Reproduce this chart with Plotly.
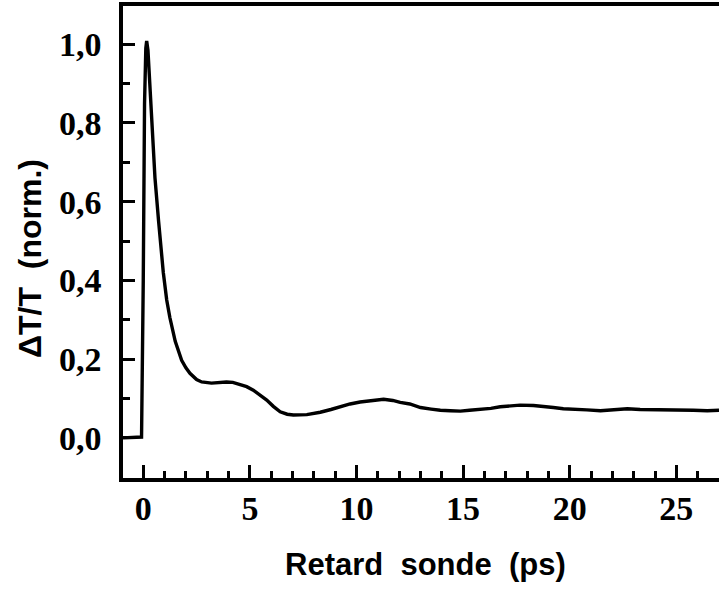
import plotly.graph_objects as go

# Pump-probe delay (ps) and normalized ΔT/T
delay_ps = [-0.95, -0.6, -0.3, -0.08, 0.0, 0.06, 0.12, 0.16, 0.22, 0.3, 0.39, 0.55, 0.72,
            0.94, 1.1, 1.25, 1.5, 1.8, 2.0, 2.19, 2.5, 2.74, 3.2, 3.6, 3.9, 4.2, 4.54,
            4.85, 5.16, 5.5, 5.79, 6.1, 6.42, 6.75, 7.04, 7.67, 8.3, 8.8, 9.23,
            9.7, 10.17, 10.7, 11.27, 11.7, 12.05, 12.5, 13.0, 13.5, 13.93, 14.4,
            14.87, 15.3, 15.8, 16.3, 16.74, 17.2, 17.67, 18.3, 18.8, 19.23, 19.7,
            20.17, 20.8, 21.44, 22.1, 22.7, 23.3, 23.9, 24.5, 25.2, 25.8, 26.45, 27.0]
dT_T_norm = [0.0, 0.0, 0.001, 0.002, 0.40, 0.85, 0.99, 1.008, 0.985, 0.90, 0.80, 0.66, 0.55,
             0.42, 0.35, 0.305, 0.245, 0.197, 0.178, 0.164, 0.148, 0.142, 0.139, 0.141, 0.142, 0.141, 0.136,
             0.13, 0.121, 0.108, 0.096, 0.08, 0.066, 0.06, 0.058, 0.059, 0.065, 0.072, 0.079,
             0.086, 0.091, 0.095, 0.098, 0.095, 0.09, 0.086, 0.077, 0.073, 0.070, 0.069,
             0.068, 0.07, 0.072, 0.075, 0.079, 0.081, 0.083, 0.082, 0.08, 0.077, 0.074,
             0.072, 0.071, 0.069, 0.071, 0.074, 0.072, 0.072, 0.071, 0.072, 0.070, 0.069, 0.07]

x_title = "Retard  sonde  (ps)"
y_title = "ΔT/T  (norm.)"

fig = go.Figure()
fig.add_trace(go.Scatter(x=delay_ps, y=dT_T_norm, mode="lines",
                         line=dict(color="black", width=3.4), showlegend=False))

tick_font = dict(family="Liberation Serif", size=34, color="black", weight="bold")
title_font = dict(family="Liberation Sans", size=31, color="black", weight="bold")
ytitle_font = dict(family="Liberation Sans", size=32, color="black", weight="bold")

fig.update_layout(
    width=719, height=589,
    margin=dict(l=123, r=0, t=6, b=111),
    paper_bgcolor="white", plot_bgcolor="white",
    separators=",.",
    xaxis=dict(range=[-0.95, 27.0], tick0=0, dtick=5, ticks="inside", ticklen=13,
               tickwidth=3, tickcolor="black", showline=True, linewidth=3.5,
               linecolor="black", mirror=True, showgrid=False, zeroline=False,
               tickfont=tick_font, ticklabelstandoff=-3,
               minor=dict(dtick=1, ticks="inside", ticklen=7, tickwidth=3,
                          tickcolor="black", showgrid=False)),
    yaxis=dict(range=[-0.102, 1.097], tick0=0, dtick=0.2, tickformat=".1f",
               ticks="inside", ticklen=12, tickwidth=3, tickcolor="black",
               showline=True, linewidth=3.5, linecolor="black", mirror=False,
               showgrid=False, zeroline=False, tickfont=tick_font,
               ticklabelstandoff=11,
               minor=dict(dtick=0.1, ticks="inside", ticklen=7, tickwidth=3,
                          tickcolor="black", showgrid=False)),
    annotations=[
        dict(text=x_title, xref="paper", yref="paper", x=0.508, y=-0.184,
             xanchor="center", yanchor="middle", showarrow=False, font=title_font),
        dict(text=y_title, xref="paper", yref="paper", x=-0.156, y=0.464,
             xanchor="center", yanchor="middle", showarrow=False, textangle=-90,
             font=ytitle_font),
    ],
)

fig.write_html("out.html", config={"displayModeBar": False},
               post_script="document.body.style.margin='0px';")
